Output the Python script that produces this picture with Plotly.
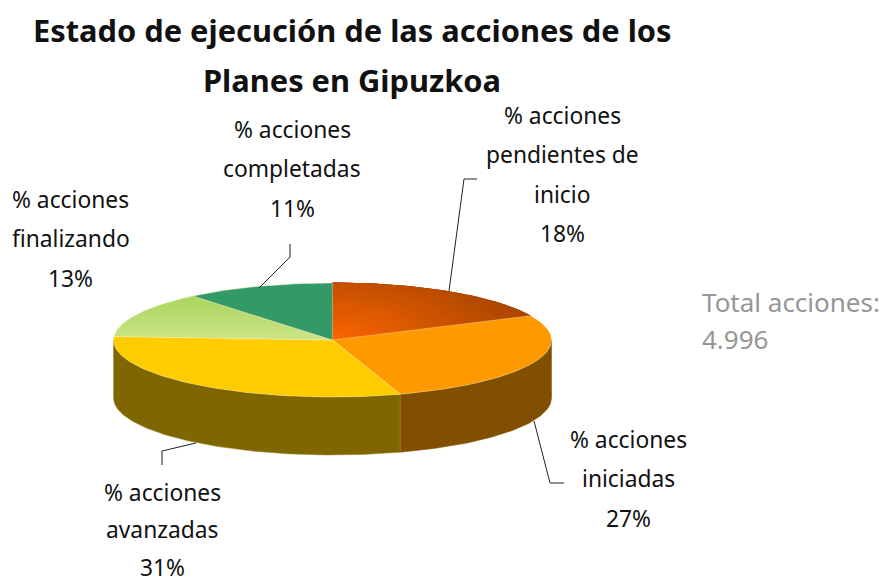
import math
import plotly.graph_objects as go

title_lines = ["Estado de ejecución de las acciones de los", "Planes en Gipuzkoa"]
categories = ["% acciones pendientes de inicio", "% acciones iniciadas", "% acciones avanzadas",
              "% acciones finalizando", "% acciones completadas"]
shares = [18, 27, 31, 13, 11]
total_text = ["Total acciones:", "4.996"]

# chart geometry (pixels of the 883x582 page)
CX, CY, RX, RY, DEPTH = 332.5, 340, 219, 57, 58
TOP_COLORS = ["#FF6600", "#FF9900", "#FFCC00", "#B5D868", "#339966"]
WALL_COLORS = ["#A84500", "#805000", "#806600", "#6B8A3A", "#1A4D33"]
FONT = "Noto Sans"
FS = 22.8
TEXT = "#111111"

def pt(a, r=1.0, dy=0):
    t = math.radians(a)
    return CX + RX * r * math.sin(t), CY - RY * r * math.cos(t) + dy

def arc(a0, a1, dy=0, n=None):
    n = n or max(2, int(abs(a1 - a0)))
    pts = [pt(a0 + (a1 - a0) * i / n, 1.0, dy) for i in range(n + 1)]
    return [p[0] for p in pts], [p[1] for p in pts]

fig = go.Figure()
cum = [0]
for s in shares:
    cum.append(cum[-1] + s * 3.6)

# walls: only the front half of the cake is seen
for i in range(len(shares)):
    a0, a1 = max(cum[i], 90), min(cum[i + 1], 270)
    if a1 <= a0:
        continue
    x1, y1 = arc(a0, a1)
    x2, y2 = arc(a1, a0, DEPTH)
    fig.add_trace(go.Scatter(x=x1 + x2 + [x1[0]], y=y1 + y2 + [y1[0]], mode="lines", fill="toself",
                             fillcolor=WALL_COLORS[i], line=dict(color="#9A8A30", width=0.5) if i == 2 else dict(color=WALL_COLORS[i], width=0.5),
                             hoverinfo="skip", showlegend=False))

def lerp(c0, c1, t):
    a = [int(c0[j:j + 2], 16) for j in (1, 3, 5)]
    b = [int(c1[j:j + 2], 16) for j in (1, 3, 5)]
    return "rgb(%d,%d,%d)" % tuple(round(a[k] + (b[k] - a[k]) * t) for k in range(3))

def banded_sector(a0, a1, t, ky):
    """Slice clipped to an ellipse of relative size t, taller by ky, for a stepped gradient."""
    xs, ys = [CX], [CY]
    n = int(a1 - a0) + 1
    for i in range(n + 1):
        a = math.radians(a0 + (a1 - a0) * i / n)
        sx, sy = math.sin(a), math.cos(a)
        r_band = t / math.sqrt(sx ** 2 + (sy / ky) ** 2)
        r = min(1.0, r_band)
        xs.append(CX + RX * r * sx)
        ys.append(CY - RY * r * sy)
    xs.append(CX); ys.append(CY)
    return xs, ys

# top faces
for i in range(len(shares)):
    a0, a1 = cum[i], cum[i + 1]
    if i == 0:
        for k in range(24, 0, -1):
            t = k / 24
            xs, ys = banded_sector(a0, a1, t, 1.55)
            c = lerp("#FF6600", "#A84500", min(1.0, t / 0.95))
            fig.add_trace(go.Scatter(x=xs, y=ys, mode="lines", fill="toself", fillcolor=c,
                                     line=dict(color=c, width=0.5), hoverinfo="skip", showlegend=False))
        continue
    x1, y1 = arc(a0, a1)
    xs = [CX] + x1 + [CX]
    ys = [CY] + y1 + [CY]
    kw = dict(fillcolor=TOP_COLORS[i])
    if i == 3:
        kw = dict(fillgradient=dict(type="vertical", start=294, stop=340,
                                    colorscale=[[0, "#A8D45A"], [1, "#CBE488"]]))
    fig.add_trace(go.Scatter(x=xs, y=ys, mode="lines", fill="toself",
                             line=dict(color="rgba(255,240,190,0.6)", width=0.6),
                             hoverinfo="skip", showlegend=False, **kw))

# leader lines
leaders = [
    ([449, 464, 477], [291, 179, 179]),
    ([534, 550, 564], [421, 483, 483]),
    ([196, 162, 162], [443, 451, 465]),
    ([259, 290, 290], [288, 257, 244]),
]
for lx, ly in leaders:
    fig.add_trace(go.Scatter(x=lx, y=ly, mode="lines", line=dict(color="#222222", width=1),
                             hoverinfo="skip", showlegend=False))

label_lines = [
    ["% acciones", "pendientes de", "inicio", f"{shares[0]}%"],
    ["% acciones", "iniciadas", f"{shares[1]}%"],
    ["% acciones", "avanzadas", f"{shares[2]}%"],
    ["% acciones", "finalizando", f"{shares[3]}%"],
    ["% acciones", "completadas", f"{shares[4]}%"],
]
label_pos = [(562, 115), (628, 439), (162, 492), (70.5, 199), (292, 129)]
label_gap = [39.5, 39.5, 37.5, 39.5, 39.5]
ann = []
for lines, (lx, ly), gap in zip(label_lines, label_pos, label_gap):
    for j, s in enumerate(lines):
        ann.append(dict(x=lx, y=ly + j * gap, text=s, showarrow=False, xanchor="center", yanchor="middle",
                        font=dict(family=FONT, size=FS, color=TEXT)))
for s, ty in zip(title_lines, (30, 80)):
    ann.append(dict(x=352, y=ty, text=f"<b>{s}</b>", showarrow=False, xanchor="center", yanchor="middle",
                    font=dict(family=FONT, size=30.8, color="#111111")))
for s, ty in zip(total_text, (302, 339)):
    ann.append(dict(x=700, y=ty, text=s, showarrow=False, xanchor="left", yanchor="middle",
                    font=dict(family=FONT, size=26, color="#969696")))

fig.update_layout(
    width=883, height=582, margin=dict(l=0, r=0, t=0, b=0),
    paper_bgcolor="white", plot_bgcolor="white", showlegend=False, annotations=ann,
    xaxis=dict(range=[0, 883], visible=False, fixedrange=True),
    yaxis=dict(range=[582, 0], visible=False, fixedrange=True),
)
fig.write_html("out.html", config=dict(displayModeBar=False),
               post_script="document.body.style.margin='0';document.documentElement.style.overflow='hidden';")
